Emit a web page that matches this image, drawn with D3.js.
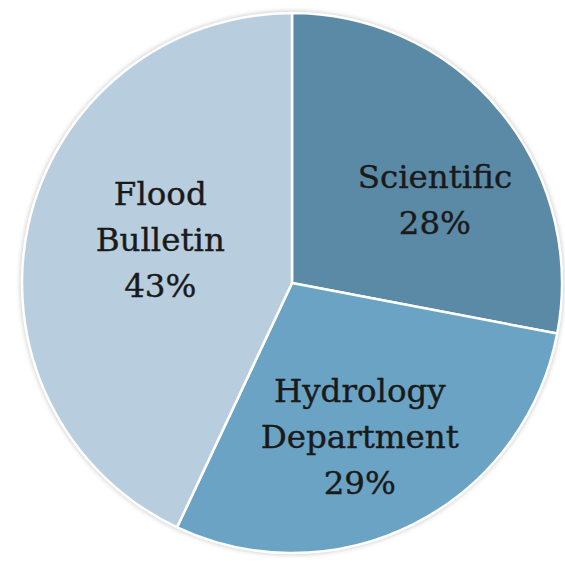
<!DOCTYPE html>
<html>
<head>
<meta charset="utf-8">
<script src="https://cdn.jsdelivr.net/npm/d3@7"></script>
<style>
  body { margin: 0; background: #fff; }
  svg { display: block; }
</style>
</head>
<body>
<svg id="chart" width="565" height="562"></svg>
<script>
// données du graphique
var categories = ["Scientific", "Hydrology Department", "Flood Bulletin"];
var labelLines = [["Scientific"], ["Hydrology", "Department"], ["Flood", "Bulletin"]];
var values = [28, 29, 43];
var colors = ["#5a8aa6", "#6aa3c3", "#b8cddd"];

// décalage des étiquettes par rapport au centroïde
var labelOffsets = [[16, 21], [-7, 6], [29, -8]];

var svg = d3.select("#chart"),
    width = +svg.attr("width"),
    height = +svg.attr("height");

var cx = 292, cy = 283, radius = 270;
var lineH = 46, fontSize = 32.5;

var defs = svg.append("defs");
defs.append("filter").attr("id", "blur")
  .attr("x", "-10%").attr("y", "-10%").attr("width", "120%").attr("height", "120%")
  .append("feGaussianBlur").attr("stdDeviation", 2);

var g = svg.append("g").attr("transform", "translate(" + cx + "," + cy + ")");

// ombre légère autour du disque
g.append("circle")
  .attr("r", radius + 2)
  .attr("fill", "#d0d0d0")
  .attr("filter", "url(#blur)");

var data = categories.map(function(c, i) { return { name: c, value: values[i], i: i }; });

var pie = d3.pie().sort(null).value(function(d) { return d.value; });
var arc = d3.arc().innerRadius(0).outerRadius(radius);
var labelArc = d3.arc().innerRadius(radius * 0.61).outerRadius(radius * 0.61);

var arcs = pie(data);

g.selectAll("path")
  .data(arcs)
  .enter().append("path")
  .attr("d", arc)
  .attr("fill", function(d) { return colors[d.data.i]; })
  .attr("stroke", "#fff")
  .attr("stroke-width", 2.5)
  .attr("stroke-linejoin", "round");

var capH = fontSize * 0.73;

var labels = g.selectAll("text.lbl")
  .data(arcs)
  .enter().append("text")
  .attr("class", "lbl")
  .attr("text-anchor", "middle")
  .style("font-family", "'DejaVu Serif', serif")
  .style("font-size", fontSize + "px")
  .attr("fill", "#1a1a1a")
  .attr("stroke", "#1a1a1a")
  .attr("stroke-width", 0.4);

labels.each(function(d) {
  var c = labelArc.centroid(d);
  var off = labelOffsets[d.data.i];
  var x = c[0] + off[0], yc = c[1] + off[1];
  var lines = labelLines[d.data.i].concat([d.data.value + "%"]);
  var y0 = yc - ((lines.length - 1) * lineH - capH) / 2;
  var t = d3.select(this);
  lines.forEach(function(l, k) {
    t.append("tspan").attr("x", x).attr("y", y0 + k * lineH).text(l);
  });
});
</script>
</body>
</html>
